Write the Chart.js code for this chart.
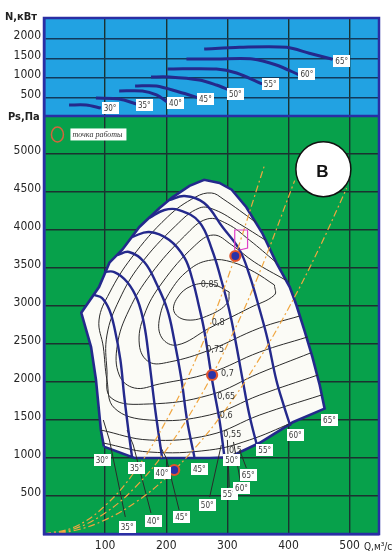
<!DOCTYPE html>
<html>
<head>
<meta charset="utf-8">
<script src="https://cdn.jsdelivr.net/npm/chart.js@4.4.0/dist/chart.umd.min.js"></script>
<style>
  html, body { margin: 0; padding: 0; background: #fff; }
  #wrap { position: relative; width: 392px; height: 552px; }
</style>
</head>
<body>
<div id="wrap"><canvas id="fan" width="392" height="552"></canvas></div>
<script>
// ── Axial fan characteristic: shaft power N (top) and static pressure Ps (bottom) vs flow Q ──

// axis ticks
const qTicks = [100, 200, 300, 400, 500];
const nTicks = [500, 1000, 1500, 2000];
const pTicks = [500, 1000, 1500, 2000, 2500, 3000, 3500, 4000, 4500, 5000];

// power curves N(Q) per blade angle
const n30Q = [41, 69, 93],                 n30N = [309, 309, 232];
const n35Q = [85, 123, 151],               n35N = [489, 463, 335];
const n40Q = [123, 161, 184, 202],         n40N = [668, 668, 566, 386];
const n45Q = [149, 184, 221, 254],         n45N = [797, 797, 643, 489];
const n50Q = [175, 205, 254, 282, 303],    n50N = [1027, 1027, 950, 822, 694];
const n55Q = [202, 282, 315, 357],         n55N = [1232, 1232, 1130, 848];
const n60Q = [233, 282, 341, 380, 418],    n60N = [1489, 1489, 1489, 1335, 1078];
const n65Q = [262, 320, 397, 434, 472],    n65N = [1745, 1789, 1789, 1635, 1481];
const powerTags = [[108, 232, '30°'], [164, 309, '35°'], [215, 360, '40°'], [264, 463, '45°'],
                   [313, 591, '50°'], [370, 848, '55°'], [430, 1104, '60°'], [487, 1437, '65°']];

// working zone outline (surge line, 65° curve, lower limit)
const zoneQ = [98, 93, 85, 77, 61, 90, 107, 128, 156, 189, 210, 238, 262, 287, 307, 331, 357, 380,
               402, 413, 426, 439, 451, 459, 407, 353, 303, 271, 148, 98];
const zoneP = [1150, 1370, 2030, 2460, 2910, 3250, 3570, 3740, 4040, 4290, 4430, 4580, 4660, 4620,
               4530, 4300, 3960, 3570, 3250, 3010, 2680, 2330, 1960, 1650, 1470, 1200, 1010, 1000, 1000, 1150];

// pressure curves Ps(Q) per blade angle
const p35Q = [82, 95, 107, 116, 125, 131, 138, 144];
const p35P = [3145, 3105, 2947, 2684, 2289, 1829, 1368, 1013];
const p40Q = [98, 115, 136, 153, 164, 172, 182, 193];
const p40P = [3447, 3447, 3316, 3079, 2750, 2289, 1632, 1013];
const p45Q = [120, 139, 164, 185, 202, 213, 225, 234, 246];
const p45P = [3671, 3711, 3579, 3276, 2947, 2553, 2026, 1500, 1013];
const p50Q = [144, 172, 205, 230, 243, 253, 262, 275, 287, 295];
const p50P = [3908, 3974, 3868, 3632, 3342, 3013, 2684, 2026, 1500, 1026];
const p55Q = [172, 197, 221, 254, 275, 290, 303, 313, 325, 336, 349];
const p55P = [4158, 4263, 4263, 4105, 3737, 3342, 2947, 2553, 2026, 1566, 1145];
const p60Q = [205, 230, 262, 292, 320, 336, 353, 366, 380, 392, 403];
const p60P = [4395, 4447, 4355, 4039, 3737, 3408, 2947, 2553, 2026, 1697, 1421];
const angleTags = [[95, 974, '30°'], [151, 868, '35°'], [193, 803, '40°'], [254, 855, '45°'],
                   [307, 974, '50°'], [361, 1105, '55°'], [411, 1303, '60°'], [467, 1500, '65°']];

// efficiency isolines
const e85Q = [303, 274, 241, 218, 213, 234, 271, 300, 303];
const e85P = [3184, 3289, 3263, 3105, 2921, 2816, 2882, 3039, 3184];
const e80Q = [377, 344, 307, 274, 241, 208, 189, 193, 218, 271, 336, 377, 377];
const e80P = [3276, 3447, 3579, 3605, 3500, 3211, 2842, 2579, 2487, 2711, 2974, 3145, 3276];
const e75Q = [395, 344, 307, 277, 246, 193, 164, 156, 172, 205, 271, 353, 418];
const e75P = [3342, 3579, 3803, 3934, 3789, 3303, 2882, 2487, 2263, 2263, 2421, 2711, 2868];
const e70Q = [379, 336, 300, 267, 230, 175, 139, 120, 123, 148, 189, 271, 353, 431];
const e70P = [3579, 3868, 4079, 4145, 3921, 3421, 2947, 2487, 2092, 1921, 1974, 2118, 2395, 2592];
const e65Q = [362, 320, 280, 254, 215, 157, 123, 103, 103, 110, 172, 271, 353, 436];
const e65P = [3868, 4079, 4263, 4289, 4053, 3539, 3079, 2618, 2158, 1789, 1711, 1829, 2118, 2382];
const e60Q = [346, 293, 274, 248, 202, 143, 107, 90, 97, 103, 115, 172, 271, 353, 448];
const e60P = [4105, 4408, 4487, 4434, 4171, 3632, 3171, 2816, 2461, 2026, 1658, 1500, 1566, 1829, 2092];
const e55Q = [93, 172, 271, 353, 454];
const e55P = [1368, 1237, 1303, 1566, 1829];
const e50Q = [97, 172, 271, 336, 405];
const e50P = [1197, 1079, 1105, 1237, 1461];
const effTags = [[271, 3276, '0,85'], [285, 2776, '0,8'], [280, 2421, '0,75'], [300, 2105, '0,7'],
                 [298, 1803, '0,65'], [298, 1553, '0,6'], [308, 1303, '0,55'], [313, 1092, '0,5']];

// leader lines to the lower angle marks
const leadLines = [
  [[97, 107, 133], [1500, 1237, 224]],
  [[136, 146, 175], [1368, 1171, 276]],
  [[189, 200, 221], [1171, 1000, 316]],
  [[290, 271], [1171, 487]],
  [[300, 303], [1237, 618]],
  [[310, 321], [1211, 697]],
  [[320, 331], [1105, 868]]
];
const lowerTags = [[136, 92, '35°'], [179, 171, '40°'], [225, 224, '45°'], [267, 382, '50°'],
                   [303, 526, '55°'], [323, 605, '60°'], [334, 776, '65°']];

// network (system) curves and operating points
const sysAQ = [0, 50, 100, 150, 200, 250, 300, 360];
const sysAP = [0, 93, 373, 840, 1492, 2331, 3357, 4834];
const sysBQ = [0, 50, 100, 150, 200, 250, 300, 350, 410];
const sysBP = [0, 69, 277, 622, 1106, 1729, 2489, 3388, 4650];
const sysCQ = [0, 50, 100, 150, 200, 250, 300, 350, 400, 450, 495];
const sysCP = [0, 46, 186, 418, 742, 1160, 1670, 2274, 2970, 3758, 4548];
const opQ = [313, 275, 213];
const opP = [3658, 2092, 842];
const markQ = [312, 312, 333, 333, 320];
const markP = [3737, 4000, 4000, 3763, 3737];

const BLUE = '#22a2e2';
const GREEN = '#07a14b';
const GRID = '#1b3230';
const FRAME = '#2a2ea4';
const NAVY = '#24298c';
const INK = '#2b2b2b';
const ORANGE = '#f0a640';
const NARROW = '"DejaVu Sans Condensed", "Liberation Sans Narrow", sans-serif';

const pts = (qs, vs) => qs.map((q, i) => ({ x: q, y: vs[i] }));

function line(qs, vs, axis, color, width, extra) {
    return Object.assign({
        data: pts(qs, vs),
        yAxisID: axis,
        showLine: true,
        pointRadius: 0,
        borderColor: color,
        borderWidth: width,
        tension: 0.4,
        fill: false,
    }, extra || {});
}

const datasets = [
    { data: pts(opQ, opP), yAxisID: 'yP', showLine: false, pointRadius: 5, pointBorderWidth: 2.2,
      pointBackgroundColor: '#2a32a8', pointBorderColor: '#e2542c', order: 0 },
    line(markQ, markP, 'yP', '#e040c8', 1.2, { tension: 0, order: 1 }),
    line(sysAQ, sysAP, 'yP', ORANGE, 1.2, { borderDash: [7, 3, 2, 3], order: 2 }),
    line(sysBQ, sysBP, 'yP', ORANGE, 1.2, { borderDash: [7, 3, 2, 3], order: 2 }),
    line(sysCQ, sysCP, 'yP', ORANGE, 1.2, { borderDash: [7, 3, 2, 3], order: 2 }),
];

// power curves
[[n30Q, n30N], [n35Q, n35N], [n40Q, n40N], [n45Q, n45N], [n50Q, n50N], [n55Q, n55N], [n60Q, n60N], [n65Q, n65N]]
    .forEach(([q, n]) => datasets.push(line(q, n, 'yN', NAVY, 3, { tension: 0.3, order: 3 })));

// pressure curves
[[p35Q, p35P], [p40Q, p40P], [p45Q, p45P], [p50Q, p50P], [p55Q, p55P], [p60Q, p60P]]
    .forEach(([q, p]) => datasets.push(line(q, p, 'yP', NAVY, 2.4, { order: 3 })));

// efficiency isolines and leaders
[[e85Q, e85P], [e80Q, e80P], [e75Q, e75P], [e70Q, e70P], [e65Q, e65P], [e60Q, e60P], [e55Q, e55P], [e50Q, e50P]]
    .forEach(([q, p]) => datasets.push(line(q, p, 'yP', INK, 1, { order: 4 })));
leadLines.forEach(([q, p]) => datasets.push(line(q, p, 'yP', INK, 1, { tension: 0, order: 4 })));

// white working zone
datasets.push(line(zoneQ, zoneP, 'yP', NAVY, 2.6, {
    tension: 0, fill: 'shape', backgroundColor: '#fbfbf6', order: 10
}));

function drawTag(ctx, x, y, text) {
    ctx.font = '8px ' + NARROW;
    const w = ctx.measureText(text).width + 4;
    ctx.fillStyle = '#ffffff';
    ctx.fillRect(Math.round(x - w / 2), Math.round(y - 6), Math.round(w), 12);
    ctx.fillStyle = '#3a3a3a';
    ctx.textAlign = 'center';
    ctx.textBaseline = 'middle';
    ctx.fillText(text, x, y + 0.5);
}

const panels = {
    id: 'panels',
    beforeDraw(chart) {
        const { ctx, chartArea: a, scales } = chart;
        ctx.save();
        ctx.fillStyle = '#fff';
        ctx.fillRect(0, 0, chart.width, chart.height);
        ctx.fillStyle = BLUE;
        ctx.fillRect(a.left, scales.yN.top, a.right - a.left, scales.yN.bottom - scales.yN.top);
        ctx.fillStyle = GREEN;
        ctx.fillRect(a.left, scales.yP.top, a.right - a.left, scales.yP.bottom - scales.yP.top);
        ctx.restore();
    },
    afterDraw(chart) {
        const { ctx, chartArea: a, scales } = chart;
        const { x, yN, yP } = scales;
        ctx.save();

        // frame and panel separator
        ctx.strokeStyle = FRAME;
        ctx.lineWidth = 2.5;
        ctx.strokeRect(a.left, a.top, a.right - a.left, a.bottom - a.top);
        ctx.beginPath();
        ctx.moveTo(a.left, yN.bottom);
        ctx.lineTo(a.right, yN.bottom);
        ctx.stroke();

        // angle marks
        powerTags.forEach(([q, n, t]) => drawTag(ctx, x.getPixelForValue(q), yN.getPixelForValue(n), t));
        angleTags.forEach(([q, p, t]) => drawTag(ctx, x.getPixelForValue(q), yP.getPixelForValue(p), t));
        lowerTags.forEach(([q, p, t]) => drawTag(ctx, x.getPixelForValue(q), yP.getPixelForValue(p), t));

        // efficiency values
        ctx.font = '9px ' + NARROW;
        ctx.fillStyle = '#333';
        ctx.textAlign = 'center';
        ctx.textBaseline = 'middle';
        effTags.forEach(([q, p, t]) => ctx.fillText(t, x.getPixelForValue(q), yP.getPixelForValue(p)));

        // legend: operating point
        const lx = x.getPixelForValue(22), ly = yP.getPixelForValue(5257);
        ctx.strokeStyle = '#d2643c';
        ctx.lineWidth = 1.5;
        ctx.beginPath();
        ctx.ellipse(lx, ly, 6, 7.5, 0, 0, Math.PI * 2);
        ctx.stroke();
        ctx.fillStyle = '#fff';
        ctx.fillRect(lx + 13, ly - 6, 56, 12);
        ctx.fillStyle = '#333';
        ctx.font = 'italic 8px "Liberation Serif", serif';
        ctx.textAlign = 'left';
        ctx.fillText('точка работы', lx + 15, ly + 0.5);

        // variant marker
        const bx = x.getPixelForValue(457), by = yP.getPixelForValue(4800);
        ctx.fillStyle = '#fff';
        ctx.strokeStyle = '#111';
        ctx.lineWidth = 1.5;
        ctx.beginPath();
        ctx.arc(bx, by, 27.5, 0, Math.PI * 2);
        ctx.fill();
        ctx.stroke();
        ctx.fillStyle = '#111';
        ctx.font = 'bold 17px "Liberation Sans", Arial, sans-serif';
        ctx.textAlign = 'center';
        ctx.fillText('В', bx - 1, by + 3);

        // axis titles
        ctx.fillStyle = '#222';
        ctx.font = 'bold 11px ' + NARROW;
        ctx.textAlign = 'left';
        ctx.fillText('N,кВт', 5, 17);
        ctx.fillText('Ps,Па', 8, 117);
        ctx.font = '10px ' + NARROW;
        ctx.fillText('Q,м³/с', 364, 547);
        ctx.restore();
    }
};

const tickFont = { family: NARROW, size: 12 };
const plain = v => String(v);

new Chart(document.getElementById('fan'), {
    type: 'scatter',
    data: { datasets },
    options: {
        responsive: false,
        animation: false,
        events: [],
        layout: { padding: { top: 18, right: 13, left: 0, bottom: 0 } },
        plugins: { legend: { display: false }, tooltip: { enabled: false } },
        scales: {
            x: {
                type: 'linear', min: 0, max: 548, z: 1,
                afterBuildTicks: s => { s.ticks = qTicks.map(v => ({ value: v })); },
                afterFit: s => { s.height = 18; },
                grid: { color: GRID, lineWidth: 1.4, drawTicks: false },
                border: { color: FRAME, width: 2.5 },
                ticks: { font: tickFont, color: '#262626', padding: 5, maxRotation: 0, autoSkip: false, callback: plain }
            },
            yN: {
                type: 'linear', position: 'left', stack: 'panels', stackWeight: 98, weight: 1,
                min: 27, max: 2540, z: 1,
                afterBuildTicks: s => { s.ticks = nTicks.map(v => ({ value: v })); },
                afterFit: s => { s.width = 44; },
                grid: { color: '#123a5c', lineWidth: 1.4, drawTicks: false },
                border: { color: FRAME, width: 2.5 },
                ticks: { font: tickFont, color: '#262626', padding: 3, labelOffset: -3, autoSkip: false, callback: plain }
            },
            yP: {
                type: 'linear', position: 'left', stack: 'panels', stackWeight: 418, weight: 0,
                min: 0, max: 5500, z: 1,
                afterBuildTicks: s => { s.ticks = pTicks.map(v => ({ value: v })); },
                afterFit: s => { s.width = 44; },
                grid: { color: GRID, lineWidth: 1.4, drawTicks: false },
                border: { color: FRAME, width: 2.5 },
                ticks: { font: tickFont, color: '#262626', padding: 3, labelOffset: -3, autoSkip: false, callback: plain }
            }
        }
    },
    plugins: [panels]
});
</script>
</body>
</html>
